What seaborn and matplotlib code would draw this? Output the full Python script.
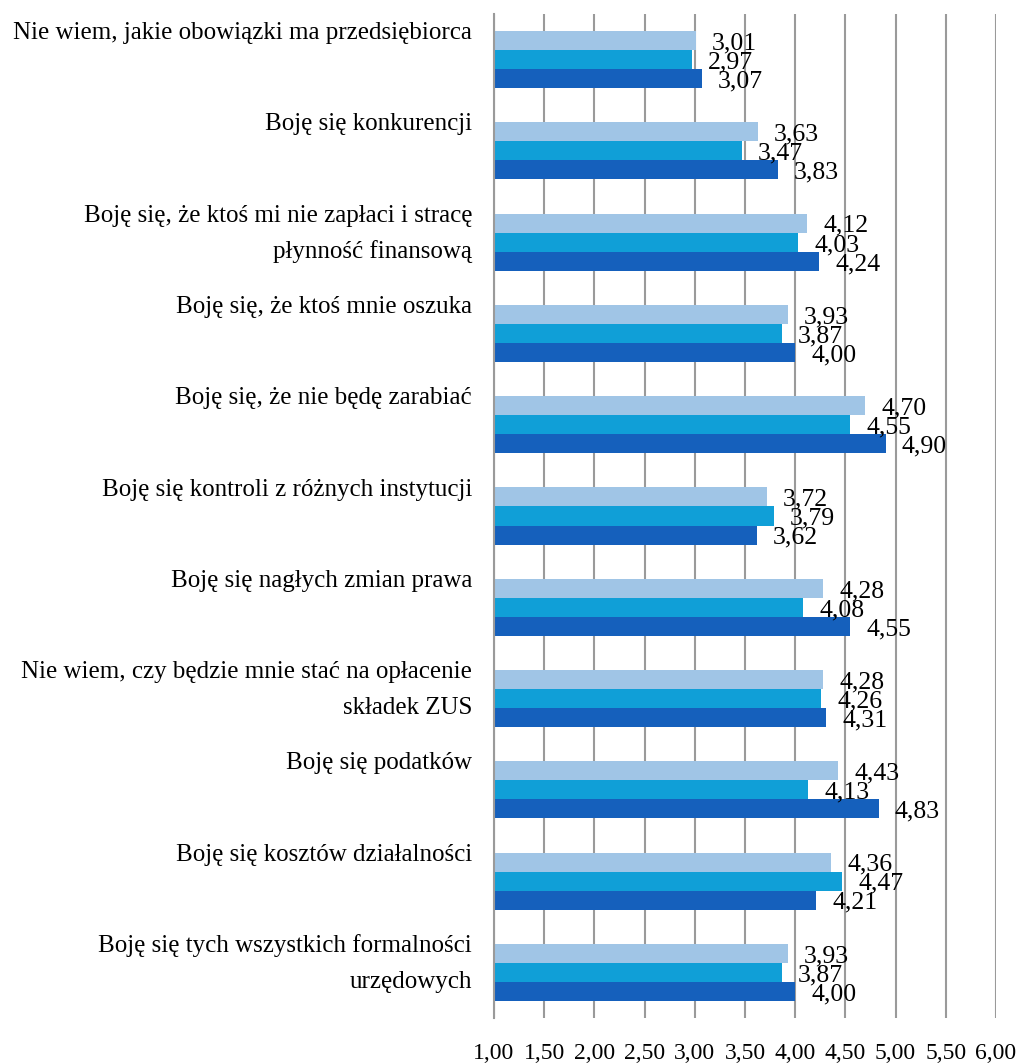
import matplotlib
matplotlib.use("Agg")
import matplotlib.pyplot as plt
import matplotlib.transforms as mtransforms
from matplotlib.ticker import FuncFormatter, MultipleLocator
import seaborn as sns
import pandas as pd

categories = [
    "Nie wiem, jakie obowiązki ma przedsiębiorca",
    "Boję się konkurencji",
    "Boję się, że ktoś mi nie zapłaci i stracę\npłynność finansową",
    "Boję się, że ktoś mnie oszuka",
    "Boję się, że nie będę zarabiać",
    "Boję się kontroli z różnych instytucji",
    "Boję się nagłych zmian prawa",
    "Nie wiem, czy będzie mnie stać na opłacenie\nskładek ZUS",
    "Boję się podatków",
    "Boję się kosztów działalności",
    "Boję się tych wszystkich formalności\nurzędowych",
]
series_names = ["Ogółem", "Seria 2", "Seria 3"]
series_a = [3.01, 3.63, 4.12, 3.93, 4.70, 3.72, 4.28, 4.28, 4.43, 4.36, 3.93]
series_b = [2.97, 3.47, 4.03, 3.87, 4.55, 3.79, 4.08, 4.26, 4.13, 4.47, 3.87]
series_c = [3.07, 3.83, 4.24, 4.00, 4.90, 3.62, 4.55, 4.31, 4.83, 4.21, 4.00]
palette = ["#a0c5e6", "#109fd7", "#1560bc"]

rows = []
for name, vals in zip(series_names, [series_a, series_b, series_c]):
    for cat, v in zip(categories, vals):
        rows.append({"kategoria": cat, "seria": name, "wartosc": v})
df = pd.DataFrame(rows)

sns.set_theme(style="white")
plt.rcParams["font.family"] = ["Liberation Serif", "DejaVu Serif"]

fig = plt.figure(figsize=(10.22, 10.63), dpi=100)
ax = fig.add_axes([494 / 1022, 1 - 1018 / 1063, 502 / 1022, 1004 / 1063])

sns.barplot(data=df, y="kategoria", x="wartosc", hue="seria", order=categories,
            hue_order=series_names, palette=palette, orient="h", width=0.625,
            saturation=1, errorbar=None, legend=False, ax=ax, gap=0,
            linewidth=0, edgecolor="none")

ax.set_xlim(1, 6)
ax.set_ylim(10.5, -0.5)
ax.xaxis.set_major_locator(MultipleLocator(0.5))
ax.xaxis.set_major_formatter(FuncFormatter(lambda v, _: f"{v:.2f}".replace(".", ",")))
ax.tick_params(axis="x", length=0, pad=18, labelsize=17, colors="black")
ax.set_yticks([])
ax.set_xlabel("")
ax.set_ylabel("")
ax.grid(axis="x", color="#9a9a9a", linewidth=1.5)
ax.set_axisbelow(True)
for s in ["top", "right", "bottom"]:
    ax.spines[s].set_visible(False)
ax.spines["left"].set_color("#9a9a9a")
ax.spines["left"].set_linewidth(1.5)

# value labels next to each bar
for container in ax.containers:
    for bar in container:
        w = bar.get_width()
        yc = bar.get_y() + bar.get_height() / 2
        ax.annotate(f"{w:.2f}".replace(".", ","), xy=(w, yc), xytext=(11.5, -2),
                    textcoords="offset points", ha="left", va="center",
                    fontsize=18.5, color="black")

# category labels, right-aligned left of the axis
trans = mtransforms.blended_transform_factory(ax.transAxes, ax.transData)
for i, cat in enumerate(categories):
    for j, line in enumerate(cat.split("\n")):
        ax.text(-22 / 502, i - 0.29 + j * 0.395, line, transform=trans,
                ha="right", va="center", fontsize=18, color="black")

fig.savefig("out.png", dpi=100)
